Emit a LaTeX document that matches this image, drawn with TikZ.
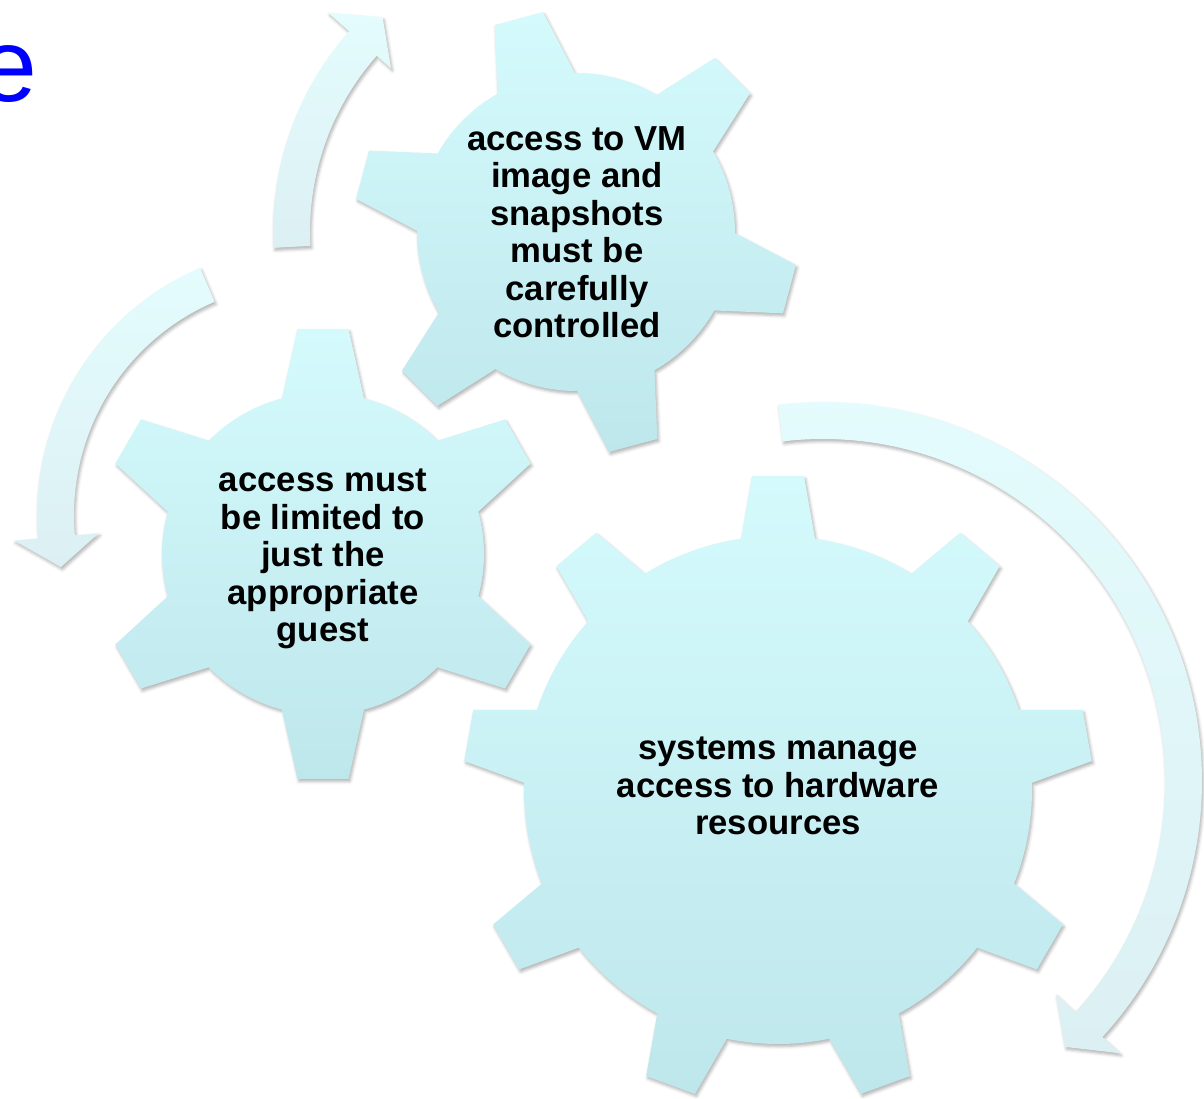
\documentclass[tikz,border=0pt]{standalone}
\usepackage{fontspec}
\setmainfont{Liberation Sans}
\usetikzlibrary{shadows.blur}
\definecolor{geartop}{RGB}{212,250,252}
\definecolor{gearbot}{RGB}{190,231,236}
\definecolor{arrtop}{RGB}{228,252,253}
\definecolor{arrbot}{RGB}{220,240,243}
\definecolor{titleblue}{RGB}{0,0,255}
\tikzset{
  softshadow/.style={blur shadow={shadow xshift=1.5pt, shadow yshift=-2.5pt, shadow blur radius=3pt, shadow opacity=30}},
  gearshape/.style={top color=geartop, bottom color=gearbot, draw=none, softshadow},
  arrowshape/.style={top color=arrtop, bottom color=arrbot, draw=none, softshadow},
  geartext/.style={align=center, font=\fontsize{34.7}{37.5}\selectfont\bfseries, text=black, inner sep=0pt},
}
% #1 cx, #2 cy, #3 inner radius, #4 outer radius, #5 tip half width, #6 base half width, #7 teeth, #8 first tooth angle
\newcommand\mygear[8]{%
  \pgfmathsetmacro\gab{asin(#6/#3)}%
  \pgfmathsetmacro\gat{atan(#5/#4)}%
  \pgfmathsetmacro\grt{#4/cos(\gat)}%
  \pgfmathsetmacro\gstep{360/#7}%
  \path[gearshape, shift={(#1,#2)}] ({#8-\gab}:#3)
    \foreach \k in {1,...,#7}{
      -- ({#8+(\k-1)*\gstep-\gat}:\grt) -- ({#8+(\k-1)*\gstep+\gat}:\grt)
      -- ({#8+(\k-1)*\gstep+\gab}:#3)
      arc[start angle={#8+(\k-1)*\gstep+\gab}, end angle={#8+\k*\gstep-\gab}, radius=#3]
    } -- cycle;
}
% #1 cx, #2 cy, #3 rin, #4 rout, #5 head in, #6 head out, #7 start angle, #8 head angle, #9 tip angle
\newcommand\myarrow[9]{%
  \path[arrowshape, shift={(#1,#2)}] (#7:#4)
    arc[start angle=#7, end angle=#8, radius=#4]
    -- (#8:#6) -- (#9:{(#5+#6)/2}) -- (#8:#5) -- (#8:#3)
    arc[start angle=#8, end angle=#7, radius=#3] -- cycle;
}
\begin{document}
\begin{tikzpicture}[x=1pt, y=-1pt]
  \useasboundingbox (0,0) rectangle (1204,1099);
  \clip (0,0) rectangle (1204,1099);
  % title fragment (cut off at the left edge, as in the reference)
  \node[anchor=base west, inner sep=0pt, font=\fontsize{104}{110}\selectfont, text=titleblue] (title) at (-21,102) {e};
  % arrows
  \myarrow{576}{232}{266}{303}{247}{331}{-183}{-138.5}{-132}
  \myarrow{306}{515}{232}{269}{208}{293}{-113.2}{-185}{-192}
  \myarrow{823}{781}{342}{379}{316}{403}{-96.8}{42.5}{47.7}
  % gears
  \mygear{576}{232}{159}{221}{25}{40}{6}{-105}
  \mygear{323}{554}{161}{225}{25.5}{41}{6}{-90}
  \mygear{778}{790}{254}{314}{26}{37}{9}{-90}
  % texts
  \node[geartext] (t1) at (577,232) {access to VM\\image and\\snapshots\\must be\\carefully\\controlled};
  \node[geartext] (t2) at (323,559) {access must\\be limited to\\just the\\appropriate\\guest};
  \node[geartext] (t3) at (778,786) {systems manage\\access to hardware\\resources};
\end{tikzpicture}
\end{document}
